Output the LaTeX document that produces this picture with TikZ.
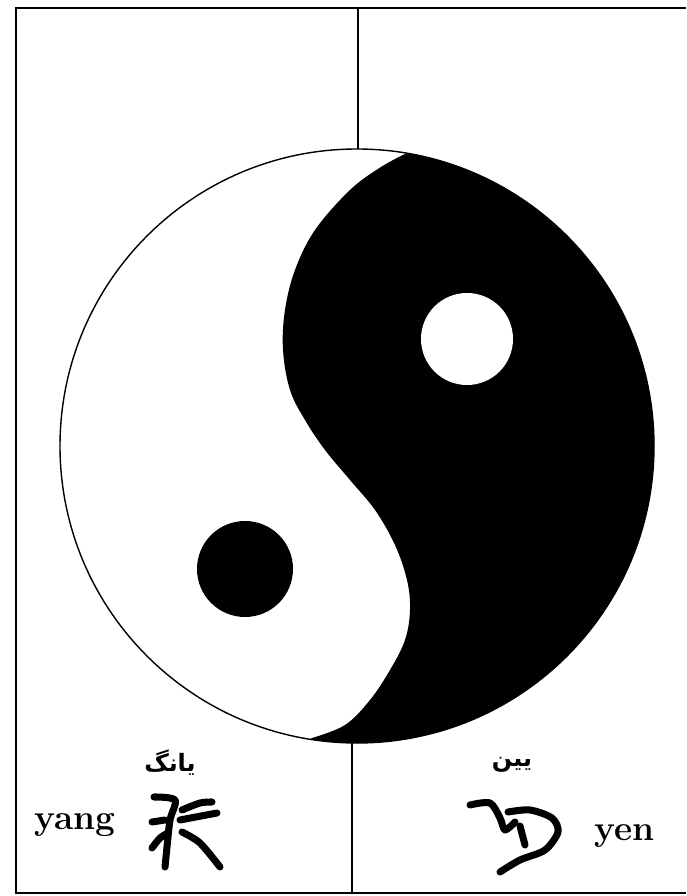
\documentclass[tikz,border=0pt]{standalone}
\usepackage{fontspec}
\newfontfamily\arabicfont[Script=Arabic]{DejaVu Sans}
\TeXXeTstate=1
\usepackage{tikz}
\usetikzlibrary{positioning}

\tikzset{
  frameline/.style={line width=1.4pt, black},
  glyph/.style={line width=5pt, line cap=round, line join=round, black},
  latinlbl/.style={inner sep=0pt, font=\fontsize{25}{28}\selectfont\bfseries},
  persianlbl/.style={inner sep=0pt, font=\arabicfont\bfseries\fontsize{17}{20}\selectfont}
}

\begin{document}
\begin{tikzpicture}[x=0.025cm, y=0.025cm]
  \useasboundingbox (0,0) rectangle (686,896);
  % frame and the two dividers
  \draw[frameline] (686,888) -- (16,888) -- (16,3) -- (686,3);
  \draw[frameline] (358,888) -- (358,747);
  \draw[frameline] (352,3) -- (352,153);

  % the disc: white half, black half, two dots
  \coordinate (ctr) at (357,450);
  \fill[black] (ctr) ++(81:297) arc[start angle=81, end angle=-99, radius=297]
    -- plot[smooth, tension=0.6] coordinates {(312,158) (345,171) (370,196) (390,226)
      (405,256) (410,286) (407,316) (395,351) (375,386) (350,416) (325,446)
      (305,476) (290,506) (283,546) (285,586) (295,626) (315,666) (350,706)
      (381,729) (407,743)} -- cycle;
  \draw[line width=1pt] (ctr) circle[radius=297];
  \fill[white] (467,557) circle[radius=46];
  \fill[black] (245,327) circle[radius=48];

  % labels
  \node[latinlbl, anchor=base west] (yanglbl) at (34,66) {yang};
  \node[latinlbl, anchor=base west] (yenlbl) at (594,56) {yen};
  \node[persianlbl] (yangfa) at (170,133) {\beginR یانگ\endR};
  \node[persianlbl] (yinfa) at (512,131) {\beginR یین\endR};

  % brush glyph for yang
  \draw[glyph] plot[smooth] coordinates {(154,99) (175,96) (170,76) (167,49) (165,29)};
  \draw[glyph] (152,74) -- (165,76);
  \draw[glyph] plot[smooth] coordinates {(182,86) (200,93) (212,94)};
  \draw[glyph] (180,76) -- (217,83);
  \draw[glyph] plot[smooth] coordinates {(152,48) (160,58) (168,63)};
  \draw[glyph] plot[smooth] coordinates {(182,64) (200,53) (220,29)};

  % brush glyph for yin
  \draw[glyph] plot[smooth] coordinates {(470,91) (490,93) (500,78) (505,66) (515,74)};
  \draw[glyph] plot[smooth] coordinates {(508,84) (530,86) (552,78) (558,64) (545,46) (520,36) (500,24)};
  \draw[glyph] (520,70) -- (525,51);
\end{tikzpicture}
\end{document}
